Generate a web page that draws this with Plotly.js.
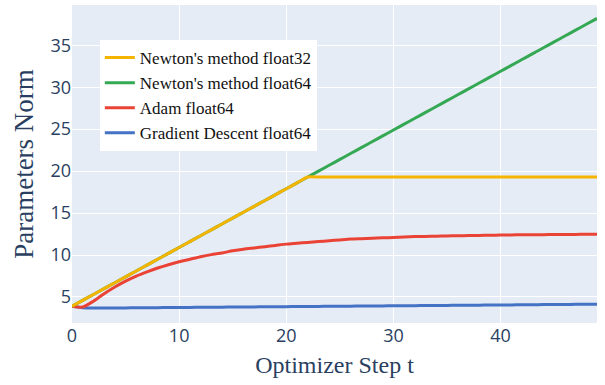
<!DOCTYPE html>
<html>
<head>
<meta charset="utf-8">
<script src="https://cdn.plot.ly/plotly-3.0.1.min.js"></script>
<style>html,body{margin:0;padding:0;background:#fff;}#chart{width:605px;height:385px;}</style>
</head>
<body>
<div id="chart"></div>
<script>
var steps = [0,1,2,3,4,5,6,7,8,9,10,11,12,13,14,15,16,17,18,19,20,21,22,23,24,25,26,27,28,29,30,31,32,33,34,35,36,37,38,39,40,41,42,43,44,45,46,47,48,49];

var newton32 = [3.9,4.6,5.3,6.0,6.7,7.4,8.1,8.8,9.5,10.2,10.9,11.6,12.3,13.0,13.7,14.4,15.1,15.8,16.5,17.2,17.9,18.6,19.3,19.3,19.3,19.3,19.3,19.3,19.3,19.3,19.3,19.3,19.3,19.3,19.3,19.3,19.3,19.3,19.3,19.3,19.3,19.3,19.3,19.3,19.3,19.3,19.3,19.3,19.3,19.3];

var newton64 = [3.9,4.6,5.3,6.0,6.7,7.4,8.1,8.8,9.5,10.2,10.9,11.6,12.3,13.0,13.7,14.4,15.1,15.8,16.5,17.2,17.9,18.6,19.3,20.0,20.7,21.4,22.1,22.8,23.5,24.2,24.9,25.6,26.3,27.0,27.7,28.4,29.1,29.8,30.5,31.2,31.9,32.6,33.3,34.0,34.7,35.4,36.1,36.8,37.5,38.2];

var adam64 = [3.9,3.8,4.5,5.4,6.2,6.9,7.5,8.0,8.45,8.85,9.2,9.5,9.8,10.05,10.25,10.5,10.7,10.85,11.0,11.15,11.3,11.4,11.5,11.6,11.7,11.8,11.9,11.95,12.0,12.05,12.1,12.15,12.2,12.22,12.25,12.28,12.3,12.32,12.34,12.36,12.38,12.4,12.41,12.42,12.43,12.44,12.45,12.46,12.47,12.48];

var gd64 = [3.9,3.72,3.68,3.68,3.69,3.7,3.71,3.72,3.73,3.74,3.75,3.76,3.77,3.78,3.79,3.8,3.81,3.82,3.83,3.84,3.85,3.86,3.87,3.88,3.89,3.9,3.91,3.92,3.93,3.94,3.95,3.96,3.97,3.98,3.99,4.0,4.01,4.02,4.03,4.04,4.05,4.06,4.07,4.08,4.09,4.1,4.11,4.12,4.13,4.14];

var names = ["Newton's method float32","Newton's method float64","Adam float64","Gradient Descent float64"];
var colors = ["#F4B400","#34A853","#EA4335","#4472C4"];
var series = [newton32, newton64, adam64, gd64];

var traces = series.map(function(s,i){
  return {x: steps, y: s, type:'scatter', mode:'lines', name: names[i],
          line:{color: colors[i], width:3, shape:'spline', smoothing:0.6}};
});
// draw order: put Newton32 on top of Newton64 for the shared segment
traces = [traces[3], traces[2], traces[1], traces[0]];

var layout = {
  width:605, height:385,
  margin:{l:72, r:8, t:5, b:62},
  paper_bgcolor:'#ffffff',
  plot_bgcolor:'#E5ECF6',
  showlegend:true,
  legend:{
    x:0.053, y:0.89, xanchor:'left', yanchor:'top',
    bgcolor:'#ffffff',
    traceorder:'reversed',
    tracegroupgap:0,
    font:{family:'Liberation Serif, Times New Roman, serif', size:17, color:'#111111'}
  },
  xaxis:{
    range:[0,49], tickvals:[0,10,20,30,40],
    gridcolor:'#ffffff', gridwidth:1, zeroline:false, showline:false,
    tickfont:{family:'Open Sans, sans-serif', size:18, color:'#2a3f5f'},
    title:{text:'Optimizer Step t', standoff:10,
      font:{family:'Liberation Serif, Times New Roman, serif', size:24, color:'#2a3f5f'}}
  },
  yaxis:{
    range:[1.9,39.8], tickvals:[5,10,15,20,25,30,35],
    gridcolor:'#ffffff', gridwidth:1, zeroline:false, showline:false,
    tickfont:{family:'Open Sans, sans-serif', size:18, color:'#2a3f5f'},
    title:{text:'Parameters Norm', standoff:8,
      font:{family:'Liberation Serif, Times New Roman, serif', size:27, color:'#2a3f5f'}}
  }
};

Plotly.newPlot('chart', traces, layout, {displayModeBar:false, staticPlot:true});
</script>
</body>
</html>
